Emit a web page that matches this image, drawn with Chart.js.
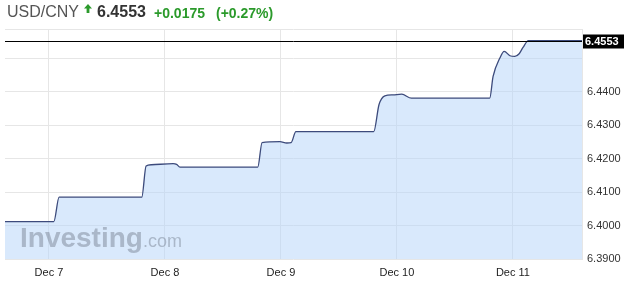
<!DOCTYPE html>
<html>
<head>
<meta charset="utf-8">
<title>USD/CNY</title>
<script src="https://cdn.jsdelivr.net/npm/chart.js@4.4.1/dist/chart.umd.min.js"></script>
<style>
  html, body { margin: 0; padding: 0; background: #fff; }
  #wrap { position: relative; width: 630px; height: 297px; overflow: hidden; font-family: Arial, "Liberation Sans", sans-serif; }
  #chart { position: absolute; left: 0; top: 0; }
  .hd { position: absolute; white-space: nowrap; line-height: 18px; }
  .pair { left: 7px; top: 3px; font-size: 16px; color: #555; }
  .last { left: 97px; top: 3px; font-size: 16px; font-weight: bold; color: #333; }
  .chg { top: 5px; font-size: 14px; font-weight: bold; color: #2b9a2b; line-height: 16px; }
  .arrow { position: absolute; left: 84px; top: 4px; }
</style>
</head>
<body>
<div id="wrap">
  <canvas id="chart" width="630" height="297"></canvas>
  <span class="hd pair">USD/CNY</span>
  <svg class="arrow" width="8" height="9" viewBox="0 0 8 9"><path d="M4 0 L8 4.5 L5.4 4.5 L5.4 9 L2.6 9 L2.6 4.5 L0 4.5 Z" fill="#2b9a2b"/></svg>
  <span class="hd last">6.4553</span>
  <span class="hd chg" style="left:154px">+0.0175</span>
  <span class="hd chg" style="left:216px">(+0.27%)</span>
</div>
<script>
// ---- DATA ----
// hours counted from Dec 7 00:00
const dayHours = [0, 24, 48, 72, 96];
const dayLabels = ['Dec 7', 'Dec 8', 'Dec 9', 'Dec 10', 'Dec 11'];
const yTicks = [6.39, 6.40, 6.41, 6.42, 6.43, 6.44, 6.45];
const hours = [-9.1, 1.0, 2.1, 19.2, 20.1, 21.2, 25.7, 26.4, 27.1, 43.2, 44.1, 47.8, 49.2, 50.1, 51.1,
  67.2, 68.3, 69.5, 71.2, 73.0, 75.0, 91.2, 91.9, 93.3, 94.2, 95.4, 96.4, 97.3, 98.1, 99.2, 110.3];
const prices = [6.4012, 6.4012, 6.4085, 6.4085, 6.4178, 6.4182, 6.4185, 6.4183, 6.4175, 6.4175, 6.4248, 6.4251, 6.4247, 6.4248, 6.4281,
  6.4281, 6.4362, 6.4388, 6.4391, 6.4393, 6.4381, 6.4381, 6.4446, 6.4501, 6.4521, 6.4508, 6.4506, 6.4514, 6.4533, 6.4553, 6.4553];
const lastPrice = 6.4553;

const FONT = 'Arial, "Liberation Sans", sans-serif';

// ---- WATERMARK ----
const watermark = {
  id: 'watermark',
  afterDatasetsDraw(chart) {
    const ctx = chart.ctx;
    ctx.save();
    ctx.fillStyle = 'rgba(100,110,125,0.4)';
    ctx.textBaseline = 'alphabetic';
    ctx.font = 'bold 28px ' + FONT;
    ctx.fillText('Investing', 20, 247);
    const w = ctx.measureText('Investing').width;
    ctx.font = '18px ' + FONT;
    ctx.fillText('.com', 20 + w, 247);
    ctx.restore();
  }
};

// ---- LAST PRICE LINE ----
const lastLine = {
  id: 'lastLine',
  afterDraw(chart) {
    const ctx = chart.ctx;
    const area = chart.chartArea;
    const y = Math.round(chart.scales.y.getPixelForValue(lastPrice)) + 0.5;
    ctx.save();
    ctx.strokeStyle = '#000';
    ctx.lineWidth = 1;
    ctx.beginPath();
    ctx.moveTo(area.left, y);
    ctx.lineTo(area.right, y);
    ctx.stroke();
    ctx.fillStyle = '#000';
    ctx.fillRect(area.right + 1, y - 7, 41, 14);
    ctx.fillStyle = '#fff';
    ctx.font = 'bold 11px ' + FONT;
    ctx.textBaseline = 'middle';
    ctx.fillText(lastPrice.toFixed(4), area.right + 3, y + 0.5);
    ctx.restore();
  }
};

new Chart(document.getElementById('chart'), {
  type: 'line',
  data: {
    datasets: [{
      data: hours.map((h, i) => ({ x: h, y: prices[i] })),
      borderColor: '#3d4b7c',
      borderWidth: 1.3,
      backgroundColor: 'rgba(180,212,250,0.5)',
      fill: 'start',
      pointRadius: 0,
      cubicInterpolationMode: 'monotone'
    }]
  },
  options: {
    responsive: false,
    devicePixelRatio: 1,
    animation: false,
    layout: { padding: { top: 29, left: 5, right: 0, bottom: 0 } },
    plugins: { legend: { display: false }, tooltip: { enabled: false } },
    scales: {
      x: {
        type: 'linear',
        min: -9.1,
        max: 110.3,
        afterBuildTicks: s => { s.ticks = dayHours.map(v => ({ value: v })); },
        afterFit: s => { s.height = 38; },
        grid: { color: '#e6e6e6', drawTicks: false },
        border: { display: false },
        ticks: {
          autoSkip: false, maxRotation: 0, padding: 7,
          font: { size: 11, family: FONT }, color: '#222',
          callback: v => dayLabels[dayHours.indexOf(v)] || ''
        }
      },
      y: {
        position: 'right',
        min: 6.39,
        max: 6.4588,
        afterBuildTicks: s => { s.ticks = yTicks.concat([s.max]).map(v => ({ value: v })); },
        afterFit: s => { s.width = 48; },
        grid: { color: '#e6e6e6', drawTicks: false },
        border: { color: '#e6e6e6' },
        ticks: {
          padding: 5,
          font: { size: 11, family: FONT }, color: '#333',
          callback: v => (v < 6.445 ? v.toFixed(4) : '')
        }
      }
    }
  },
  plugins: [watermark, lastLine]
});
</script>
</body>
</html>
